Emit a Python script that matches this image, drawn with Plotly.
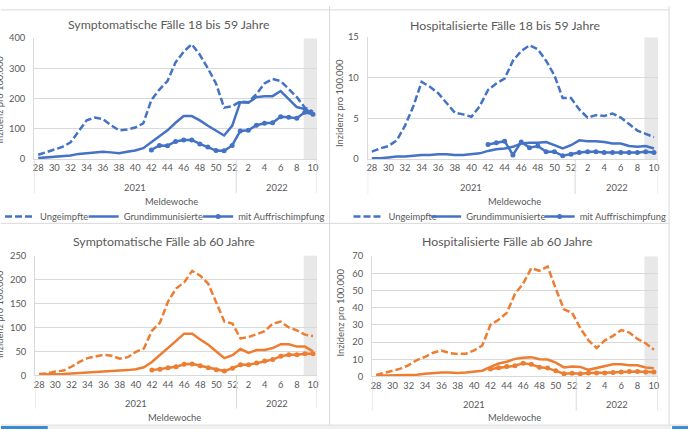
import plotly.graph_objects as go

W, H = 690, 434

# ---------------- data ----------------
weeks = list(range(28, 53)) + list(range(1, 11))
week_labels = [str(w) for w in weeks]
year_labels = ["2021", "2022"]
n_2021 = 25
x_idx = list(range(len(weeks)))
series_names = ["Ungeimpfte", "Grundimmunisierte", "mit Auffrischimpfung"]

NA = None
# Symptomatische Fälle 18 bis 59 Jahre
sym_1859_unvacc = [14, 22, 30, 40, 55, 92, 128, 137, 132, 112, 95, 98, 104, 118,
                   195, 230, 258, 320, 355, 380, 345, 300, 250, 170, 175,
                   190, 188, 215, 250, 265, 258, 232, 205, 170, 157]
sym_1859_basic = [3, 5, 6, 9, 12, 17, 20, 22, 24, 22, 19, 24, 28, 36,
                  55, 75, 95, 120, 142, 142, 128, 110, 93, 78, 110,
                  188, 186, 205, 208, 208, 225, 198, 172, 165, 152]
sym_1859_booster = [NA] * 14 + [30, 45, 44, 58, 63, 63, 50, 40, 28, 27, 45,
                                93, 95, 112, 118, 120, 140, 138, 135, 155, 148]

# Hospitalisierte Fälle 18 bis 59 Jahre
hosp_1859_unvacc = [0.9, 1.3, 1.6, 2.3, 4.1, 6.5, 9.5, 8.9, 8.1, 6.9, 5.7, 5.5, 5.2, 6.5,
                    8.5, 9.3, 9.9, 12.1, 13.3, 14.0, 13.5, 12.1, 10.3, 7.5, 7.5,
                    6.1, 5.1, 5.4, 5.3, 5.6, 5.1, 4.3, 3.5, 3.1, 2.7]
hosp_1859_basic = [0.1, 0.1, 0.2, 0.3, 0.3, 0.4, 0.5, 0.5, 0.6, 0.6, 0.5, 0.5, 0.6, 0.7,
                   1.0, 1.2, 1.3, 1.5, 1.9, 2.0, 2.0, 2.1, 1.7, 1.3, 1.7,
                   2.3, 2.2, 2.2, 2.1, 1.9, 1.9, 1.6, 1.5, 1.6, 1.3]
hosp_1859_booster = [NA] * 14 + [1.8, 2.0, 2.2, 0.5, 2.1, 1.4, 1.6, 0.9, 0.9, 0.4, 0.6,
                                 0.8, 0.9, 0.9, 0.8, 0.8, 0.8, 0.8, 0.8, 0.9, 0.8]

# Symptomatische Fälle ab 60 Jahre
sym_60_unvacc = [3, 4, 8, 10, 18, 28, 36, 40, 43, 41, 35, 38, 49, 56,
                 93, 110, 154, 181, 194, 218, 208, 191, 150, 112, 108,
                 77, 80, 86, 92, 108, 112, 100, 94, 85, 82]
sym_60_basic = [2, 2, 2, 3, 4, 5, 6, 7, 8, 9, 9, 11, 13, 17,
                28, 42, 56, 72, 87, 87, 75, 64, 50, 36, 42,
                55, 47, 53, 53, 57, 65, 65, 60, 60, 50]
sym_60_booster = [NA] * 14 + [11, 13, 16, 18, 23, 24, 20, 16, 12, 9, 15,
                              22, 22, 26, 30, 33, 40, 43, 43, 45, 45]

# Hospitalisierte Fälle ab 60 Jahre
hosp_60_unvacc = [0.8, 2.0, 3.4, 4.5, 6.6, 9.5, 11.4, 13.8, 15.1, 13.6, 13.1, 13.2, 15.1, 18.0,
                  30, 33, 37, 48, 54, 63, 61.5, 64, 51, 39, 37,
                  28, 21, 16.5, 21, 23.6, 27, 25.5, 21.8, 19.3, 15.5]
hosp_60_basic = [0.3, 0.4, 0.5, 0.6, 0.8, 1.0, 1.5, 2.0, 2.3, 2.2, 2.0, 2.3, 2.7, 3.3,
                 5.5, 7.5, 8.5, 10.2, 10.8, 11.2, 10.0, 9.8, 8.0, 5.2, 5.8,
                 5.5, 3.8, 5.0, 5.8, 7.0, 7.0, 6.5, 6.5, 5.2, 4.8]
hosp_60_booster = [NA] * 14 + [4.3, 5.0, 5.8, 6.2, 7.7, 7.0, 5.3, 4.8, 3.2, 1.5, 1.8,
                               1.5, 2.0, 2.0, 2.0, 2.3, 2.5, 2.8, 2.8, 2.5, 2.5]

titles = ["Symptomatische Fälle 18 bis 59 Jahre", "Hospitalisierte Fälle 18 bis 59 Jahre",
          "Symptomatische Fälle ab 60 Jahre", "Hospitalisierte Fälle ab 60 Jahre"]
y_max = [400, 15, 250, 70]
y_step = [100, 5, 50, 10]
y_title = "Inzidenz pro 100.000"
x_title = "Meldewoche"

panel_data = [
    (sym_1859_unvacc, sym_1859_basic, sym_1859_booster),
    (hosp_1859_unvacc, hosp_1859_basic, hosp_1859_booster),
    (sym_60_unvacc, sym_60_basic, sym_60_booster),
    (hosp_60_unvacc, hosp_60_basic, hosp_60_booster),
]
panel_colors = ["#4472C4", "#4472C4", "#ED7D31", "#ED7D31"]

# ---------------- layout (pixels) ----------------
FONT = "Lato"
GREY_TXT = "#595959"
GRID = "#d9d9d9"
SMALL = 9.4
TITLE = 12.3

plot_px = [  # x0, x1, ytop, ybottom
    (33.3, 317.4, 33, 157),
    (368.3, 660.0, 32, 157),
    (34.3, 317.4, 256, 379),
    (372.6, 659.8, 256.7, 380),
]
title_px = [(168.5, 19), (507, 20), (164, 242), (508.5, 242)]
year_y = [186, 186, 408, 409]
mw_px = [(171.7, 201), (515.7, 201), (174, 422), (516, 422)]
div_bottom = [192, 193, 413, 415]
ytitle_px = [(-1, 96), (340, 100), (-1, 316), (340, 315)]
# legend glyph start x for each series, top panels only
legend_glyph_x = [[8, 92, 207], [358, 436, 550]]
legend_y = 216


def px(x):
    return x / W


def py(y):
    return 1 - y / H


fig = go.Figure()
shapes = []
annotations = []
legends = {}

for p in range(4):
    sfx = "" if p == 0 else str(p + 1)
    xa, ya = "x" + sfx, "y" + sfx
    col = panel_colors[p]
    unv, bas, boo = panel_data[p]
    styles = [
        dict(mode="lines", line=dict(color=col, width=2.5, dash="7px,3px")),
        dict(mode="lines", line=dict(color=col, width=2.5)),
        dict(mode="lines+markers", line=dict(color=col, width=2.5),
             marker=dict(color=col, size=5, symbol="circle")),
    ]
    for s, ys in enumerate((unv, bas, boo)):
        kw = dict(x=x_idx, y=ys, name=series_names[s], xaxis=xa, yaxis=ya,
                  hoverinfo="skip", showlegend=p < 2, **styles[s])
        if p < 2:
            k = p * 3 + s
            lname = "legend" if k == 0 else "legend" + str(k + 1)
            kw["legend"] = lname
            legends[lname] = dict(
                x=px(legend_glyph_x[p][s] - 9), y=py(legend_y),
                xanchor="left", yanchor="middle", orientation="h",
                font=dict(family=FONT, size=SMALL, color=GREY_TXT),
                bgcolor="rgba(0,0,0,0)", itemwidth=30, borderwidth=0,
                itemclick=False, itemdoubleclick=False)
        fig.add_trace(go.Scatter(**kw))

    x0, x1, yt, yb = plot_px[p]
    fig.update_layout(**{
        "xaxis" + sfx: dict(
            domain=[px(x0), px(x1)], anchor=ya, range=[-0.5, len(weeks) - 0.5],
            tickmode="array", tickvals=x_idx[::2], ticktext=week_labels[::2],
            showgrid=False, zeroline=False, showline=True, linecolor=GRID, linewidth=1,
            ticks="", tickfont=dict(family=FONT, size=SMALL, color=GREY_TXT),
            fixedrange=True),
        "yaxis" + sfx: dict(
            domain=[py(yb), py(yt)], anchor=xa, range=[0, y_max[p]], dtick=y_step[p],
            showgrid=True, gridcolor=GRID, gridwidth=1, zeroline=False,
            showline=True, linecolor=GRID, linewidth=1, ticks="",
            ticklabelstandoff=6,
            tickfont=dict(family=FONT, size=SMALL, color=GREY_TXT), fixedrange=True),
    })

    # shaded (incomplete) weeks at the end
    shapes.append(dict(type="rect", xref=xa, yref=ya, x0=32.85, x1=len(weeks) - 0.5,
                       y0=0, y1=y_max[p], fillcolor="#e8e8e8", line=dict(width=0),
                       layer="below"))
    # category group dividers
    for xv in (-0.5, n_2021 - 0.5, len(weeks) - 0.5):
        shapes.append(dict(type="line", xref=xa, yref="paper", x0=xv, x1=xv,
                           y0=py(yb), y1=py(div_bottom[p]),
                           line=dict(color=GRID, width=1)))
    # year labels
    annotations.append(dict(text=year_labels[0], xref=xa, yref="paper",
                            x=(n_2021 - 1) / 2, y=py(year_y[p]), showarrow=False,
                            font=dict(family=FONT, size=SMALL, color=GREY_TXT),
                            xanchor="center", yanchor="middle"))
    annotations.append(dict(text=year_labels[1], xref=xa, yref="paper",
                            x=(n_2021 - 0.5 + len(weeks) - 0.5) / 2, y=py(year_y[p]),
                            showarrow=False,
                            font=dict(family=FONT, size=SMALL, color=GREY_TXT),
                            xanchor="center", yanchor="middle"))
    # titles
    tx, ty = title_px[p]
    annotations.append(dict(text=titles[p], xref="paper", yref="paper", x=px(tx), y=py(ty),
                            showarrow=False, xanchor="center", yanchor="middle",
                            font=dict(family=FONT, size=TITLE, color=GREY_TXT)))
    mx, my = mw_px[p]
    annotations.append(dict(text=x_title, xref="paper", yref="paper", x=px(mx), y=py(my),
                            showarrow=False, xanchor="center", yanchor="middle",
                            font=dict(family=FONT, size=SMALL, color=GREY_TXT)))
    yx, yy = ytitle_px[p]
    annotations.append(dict(text=y_title, xref="paper", yref="paper", x=px(yx), y=py(yy),
                            showarrow=False, xanchor="center", yanchor="middle",
                            textangle=-90,
                            font=dict(family=FONT, size=SMALL, color=GREY_TXT)))

# chart borders
for (xa0, ya0, xa1, ya1) in [(0, 4, 671, 4), (0, 223, 671, 223), (0, 430, 690, 430),
                             (330, 0, 330, 430), (671, 0, 671, 430)]:
    shapes.append(dict(type="line", xref="paper", yref="paper", x0=px(xa0), x1=px(xa1),
                       y0=py(ya0), y1=py(ya1), line=dict(color=GRID, width=1)))
# bottom strip (sheet tab / scroll bar)
shapes.append(dict(type="rect", xref="paper", yref="paper", x0=px(47), x1=px(673),
                   y0=py(434), y1=py(431), fillcolor="#f0f0f0", line=dict(width=0)))
shapes.append(dict(type="rect", xref="paper", yref="paper", x0=0, x1=px(47),
                   y0=py(434), y1=py(431), fillcolor="#3a8ad4", line=dict(width=0)))
shapes.append(dict(type="rect", xref="paper", yref="paper", x0=px(674), x1=px(690),
                   y0=py(434), y1=py(431), fillcolor="#3a8ad4", line=dict(width=0)))

fig.update_layout(
    width=W, height=H, margin=dict(l=0, r=0, t=0, b=0),
    paper_bgcolor="white", plot_bgcolor="white",
    shapes=shapes, annotations=annotations,
    font=dict(family=FONT, color=GREY_TXT),
    **legends,
)

fig.write_html("out.html", config={"displayModeBar": False},
               post_script="document.body.style.margin='0';"
                           "document.body.style.overflow='hidden';")
